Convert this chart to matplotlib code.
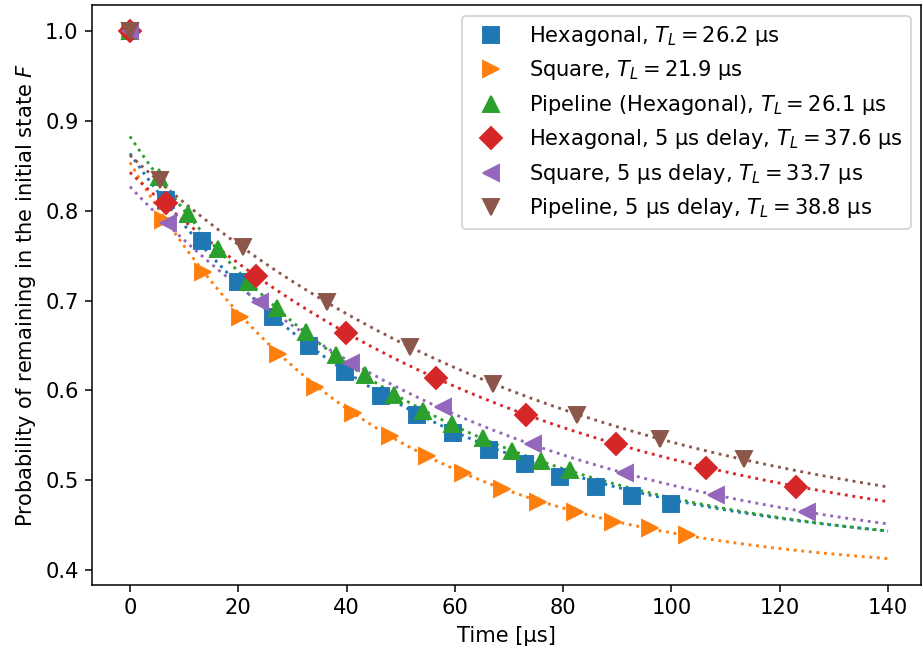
import numpy as np
import matplotlib
matplotlib.use("Agg")
import matplotlib.pyplot as plt

# measured points (time in us, probability F)
hex_t = [0, 6.6, 13.3, 20.0, 26.5, 33.1, 39.7, 46.4, 53.0, 59.7, 66.3, 73.0, 79.4, 86.1, 92.7, 99.9]
hex_f = [1.0, 0.812, 0.766, 0.721, 0.682, 0.649, 0.620, 0.594, 0.572, 0.552, 0.534, 0.518, 0.503, 0.492, 0.482, 0.473]

sq_t = [0, 6.1, 13.5, 20.3, 27.3, 34.2, 41.2, 48.0, 54.9, 61.5, 68.7, 75.4, 82.2, 89.2, 96.1, 102.9]
sq_f = [1.0, 0.790, 0.732, 0.682, 0.640, 0.604, 0.575, 0.549, 0.527, 0.508, 0.490, 0.476, 0.464, 0.453, 0.447, 0.439]

pipe_t = [0, 5.3, 10.7, 16.3, 21.8, 27.2, 32.6, 38.0, 43.4, 48.8, 54.1, 59.5, 65.2, 70.6, 75.9, 81.3]
pipe_f = [1.0, 0.838, 0.796, 0.757, 0.721, 0.692, 0.665, 0.639, 0.617, 0.595, 0.577, 0.562, 0.547, 0.532, 0.521, 0.511]

hexd_t = [0, 6.7, 23.3, 39.9, 56.5, 73.1, 89.8, 106.4, 123.0]
hexd_f = [1.0, 0.809, 0.727, 0.664, 0.614, 0.573, 0.540, 0.513, 0.492]

sqd_t = [0, 7.0, 24.0, 40.8, 57.8, 74.4, 91.4, 108.2, 125.0]
sqd_f = [1.0, 0.787, 0.699, 0.631, 0.581, 0.540, 0.508, 0.483, 0.464]

piped_t = [0, 5.5, 20.9, 36.4, 51.7, 67.1, 82.6, 97.9, 113.4]
piped_f = [1.0, 0.834, 0.760, 0.698, 0.648, 0.607, 0.572, 0.546, 0.523]

labels = [
    r"Hexagonal, $T_L = 26.2$ µs",
    r"Square, $T_L = 21.9$ µs",
    r"Pipeline (Hexagonal), $T_L = 26.1$ µs",
    r"Hexagonal, 5 µs delay, $T_L = 37.6$ µs",
    r"Square, 5 µs delay, $T_L = 33.7$ µs",
    r"Pipeline, 5 µs delay, $T_L = 38.8$ µs",
]

# fitted curves F = A*exp(-t/tau) + C, parameters
fit_amp = [0.450, 0.461, 0.472, 0.435, 0.429, 0.446]
fit_tau = [51.3, 44.3, 52.1, 75.4, 67.0, 79.3]
fit_off = [0.414, 0.393, 0.411, 0.408, 0.398, 0.416]

series = [(hex_t, hex_f), (sq_t, sq_f), (pipe_t, pipe_f),
          (hexd_t, hexd_f), (sqd_t, sqd_f), (piped_t, piped_f)]
markers = ["s", ">", "^", "D", "<", "v"]
colors = ["C0", "C1", "C2", "C3", "C4", "C5"]

fig = plt.figure(figsize=(923 / 137.5, 655 / 137.5), dpi=137.5)
ax = fig.add_axes([0.0997, 0.107, 0.8983, 0.8853])

tt = np.linspace(0, 140, 300)
for i in range(6):
    ax.plot(tt, fit_amp[i] * np.exp(-tt / fit_tau[i]) + fit_off[i], ":",
            color=colors[i], zorder=1)

for i, (t, f) in enumerate(series):
    ax.plot(t, f, linestyle="none", marker=markers[i], markersize=8,
            color=colors[i], label=labels[i], zorder=2)

ax.set_xlim(-7, 146.1)
ax.tick_params(labelsize=11)
ax.set_xlabel("Time [µs]", fontsize=11)
ax.set_ylabel(r"Probability of remaining in the initial state $F$", fontsize=11)
ax.legend(loc="upper right", fontsize=11)

fig.savefig("out.png", dpi=137.5)
